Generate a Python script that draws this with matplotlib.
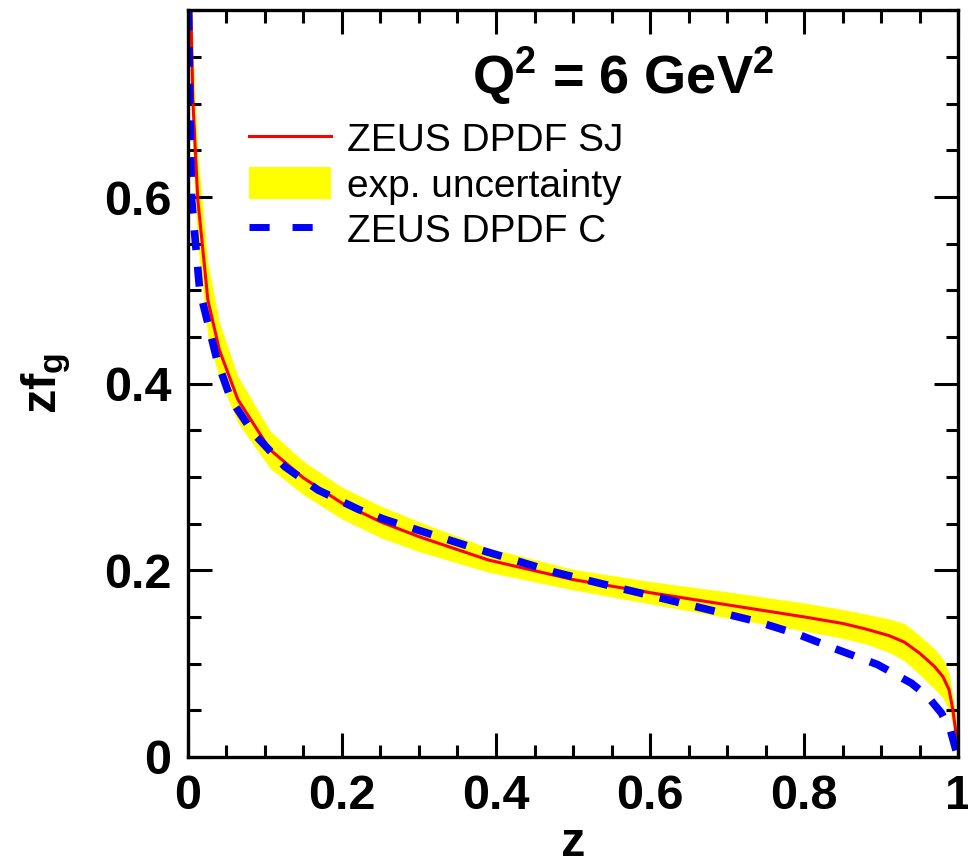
import numpy as np
from matplotlib import pyplot as plt
from matplotlib.ticker import MultipleLocator
from matplotlib.lines import Line2D
from matplotlib.patches import Patch

# fuentes tipo Helvetica
plt.rcParams['font.family'] = ['Liberation Sans', 'DejaVu Sans']
plt.rcParams['mathtext.fontset'] = 'custom'
plt.rcParams['mathtext.rm'] = 'Liberation Sans'
plt.rcParams['mathtext.bf'] = 'Liberation Sans:bold'
plt.rcParams['mathtext.it'] = 'Liberation Sans:italic'

# ZEUS DPDF SJ (curva central y banda de incertidumbre)
z_sj = [0.003, 0.004, 0.0065, 0.013, 0.0195, 0.026, 0.041, 0.065, 0.107, 0.15,
        0.2, 0.25, 0.3, 0.39, 0.5, 0.6, 0.7, 0.8, 0.85, 0.88, 0.91, 0.93, 0.95,
        0.969, 0.98, 0.988, 0.993, 0.997, 1.0]
sj = [0.85, 0.80, 0.705, 0.597, 0.544, 0.49, 0.436, 0.383, 0.329, 0.299,
      0.272, 0.252, 0.236, 0.211, 0.190, 0.176, 0.163, 0.150, 0.143, 0.137, 0.130, 0.123, 0.111,
      0.097, 0.086, 0.072, 0.05, 0.025, 0.008]
sj_lo = [0.78, 0.735, 0.645, 0.547, 0.499, 0.45, 0.406, 0.358, 0.309, 0.281,
         0.255, 0.235, 0.220, 0.198, 0.179, 0.164, 0.149, 0.135, 0.127, 0.121, 0.112, 0.103, 0.088,
         0.073, 0.063, 0.050, 0.035, 0.015, 0.003]
sj_hi = [0.92, 0.865, 0.765, 0.647, 0.589, 0.53, 0.466, 0.408, 0.349, 0.317,
         0.289, 0.269, 0.252, 0.224, 0.201, 0.188, 0.177, 0.165, 0.158, 0.153, 0.148, 0.143, 0.130,
         0.116, 0.105, 0.090, 0.065, 0.04, 0.013]

# ZEUS DPDF C
z_c = [0.001, 0.0025, 0.005, 0.0155, 0.038, 0.056, 0.085, 0.126, 0.169, 0.222, 0.257,
       0.375, 0.476, 0.525, 0.635, 0.739, 0.793, 0.843, 0.895, 0.939, 0.96, 0.978, 0.99, 0.997]
c = [0.80, 0.705, 0.597, 0.50, 0.425, 0.383, 0.347, 0.311, 0.286, 0.265, 0.254,
     0.223, 0.198, 0.188, 0.166, 0.145, 0.131, 0.115, 0.099, 0.079, 0.065, 0.047, 0.028, 0.007]

x_ticks = [0, 0.2, 0.4, 0.6, 0.8, 1]
x_labels = ["0", "0.2", "0.4", "0.6", "0.8", "1"]
y_ticks = [0, 0.2, 0.4, 0.6]
y_labels = ["0", "0.2", "0.4", "0.6"]

fig = plt.figure(figsize=(9.68, 8.66), dpi=100)
ax = fig.add_axes([0.194, 0.126, 0.796, 0.862])

# banda y curvas
ax.fill_between(z_sj, sj_lo, sj_hi, color='#ffff00', lw=0)
ax.plot(z_sj, sj, color='#ff0000', lw=2.2)
ax.plot(z_c, c, color='#0000ff', lw=5.5, dashes=(2.6, 2.2))

ax.set_xlim(0, 1)
ax.set_ylim(0, 0.8)

# ejes
ax.set_xticks(x_ticks)
ax.set_xticklabels(x_labels)
ax.set_yticks(y_ticks)
ax.set_yticklabels(y_labels)
ax.xaxis.set_minor_locator(MultipleLocator(0.05))
ax.yaxis.set_minor_locator(MultipleLocator(0.05))
ax.tick_params(which='both', direction='in', top=True, right=True, width=2.2)
ax.tick_params(which='major', length=17, labelsize=35, pad=12)
ax.tick_params(which='minor', length=9)
for lab in ax.get_xticklabels() + ax.get_yticklabels():
    lab.set_fontweight('bold')
for sp in ax.spines.values():
    sp.set_linewidth(2.4)

ax.set_xlabel('z', fontsize=35, fontweight='bold', labelpad=2)
ax.set_ylabel(r'$\mathbf{zf_g}$', fontsize=35, labelpad=22)

# titulo
ax.text(0.565, 0.889, r'$\mathbf{Q^2}$' + ' = 6 GeV' + r'$\mathbf{^2}$', transform=ax.transAxes,
        fontsize=39, fontweight='bold', ha='center', va='baseline')

# leyenda
handles = [Line2D([], [], color='#ff0000', lw=2.2),
           Patch(facecolor='#ffff00', edgecolor='none'),
           Line2D([], [], color='#0000ff', lw=5, dashes=(2.9, 3.3))]
labels = ['ZEUS DPDF SJ', 'exp. uncertainty', 'ZEUS DPDF C']
ax.legend(handles, labels, loc='upper left', bbox_to_anchor=(0.08, 0.851), frameon=False,
          fontsize=28, handlelength=2.1, handleheight=0.9, handletextpad=0.4,
          labelspacing=0.2, borderpad=0, borderaxespad=0)

plt.savefig('out.png', dpi=100)
